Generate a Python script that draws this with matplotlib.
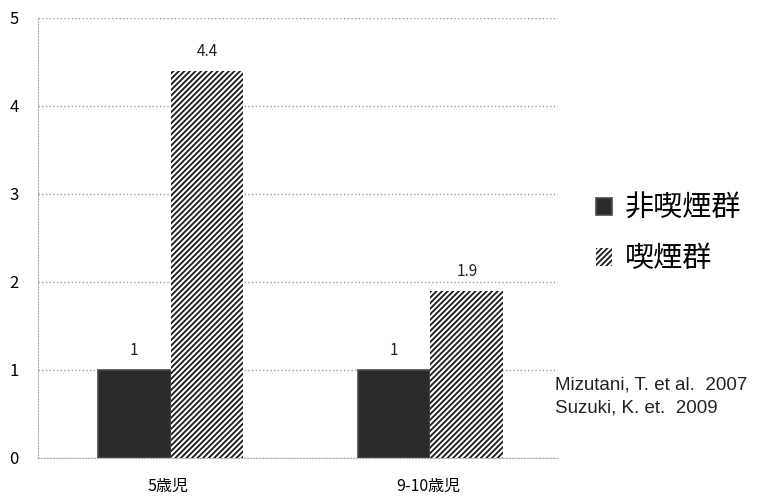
import matplotlib.pyplot as plt
import numpy as np

plt.rcParams['font.family'] = ['Noto Sans CJK JP', 'DejaVu Sans']
plt.rcParams['hatch.linewidth'] = 1.3

# data
categories = ['5歳児', '9-10歳児']
series_names = ['非喫煙群', '喫煙群']
non_smoking = [1, 1]
smoking = [4.4, 1.9]
citations = ['Mizutani, T. et al.  2007', 'Suzuki, K. et.  2009']

fig = plt.figure(figsize=(7.8, 5), dpi=100)
ax = fig.add_axes([0.049, 0.084, 0.666, 0.88])

x = np.arange(len(categories))
w = 0.28
b1 = ax.bar(x - w / 2 + 0.01, non_smoking, w, color='#2b2b2b', edgecolor='#4a4a4a',
            linewidth=1.2, label=series_names[0], zorder=3)
b2 = ax.bar(x + w / 2 + 0.01, smoking, w, color='white', edgecolor='#1a1a1a',
            hatch='//////', linewidth=0, label=series_names[1], zorder=3)

for rect, v in zip(list(b1) + list(b2), non_smoking + smoking):
    ax.text(rect.get_x() + rect.get_width() / 2, v + 0.12, '{:g}'.format(v),
            ha='center', va='bottom', fontsize=11, color='#222222')

ax.set_xlim(-0.5, 1.5)
ax.set_ylim(0, 5)
ax.set_yticks(range(6))
ax.set_xticks(x)
ax.set_xticklabels(categories, fontsize=11.5)
ax.tick_params(axis='y', length=0, labelsize=12, pad=14)
ax.tick_params(axis='x', length=0, pad=14)
ax.grid(axis='y', color='#999999', linestyle=':', linewidth=1.0, zorder=0)
for s in ['top', 'right']:
    ax.spines[s].set_visible(False)
ax.spines['left'].set_color('#aaaaaa')
ax.spines['left'].set_linestyle(':')
ax.spines['bottom'].set_color('#aaaaaa')
ax.spines['bottom'].set_linestyle(':')

fig.legend(handles=[b1, b2], labels=series_names, loc='upper left',
           bbox_to_anchor=(0.73, 0.665), frameon=False, fontsize=21,
           handlelength=0.55, handleheight=0.55, handletextpad=0.45,
           labelspacing=0.7)

for i, c in enumerate(citations):
    fig.text(0.711, 0.23 - i * 0.046, c, fontsize=13.5, color='#222222',
             family=['Liberation Sans', 'DejaVu Sans'], va='center')

fig.savefig('out.png', dpi=100)
